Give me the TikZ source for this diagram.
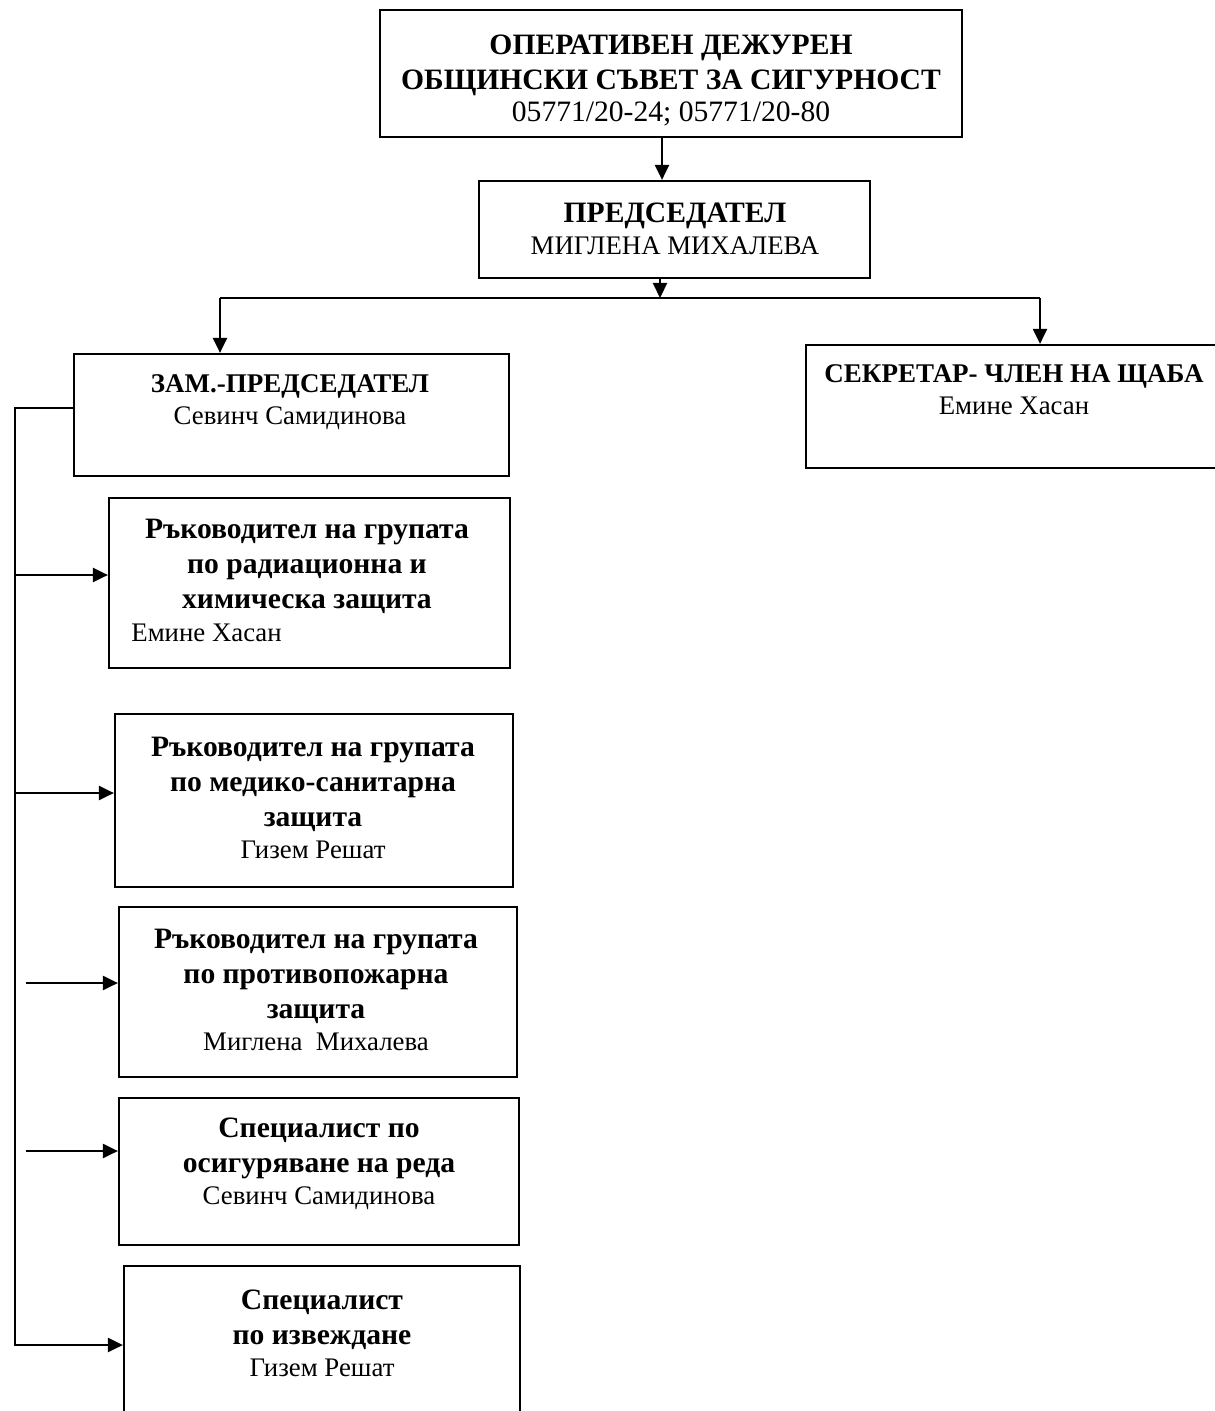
\documentclass[tikz,border=0pt]{standalone}
\usepackage{fontspec}
\setmainfont{Liberation Serif}
\usetikzlibrary{arrows.meta}

\newcommand{\headtxt}[1]{{\fontsize{14.8}{17.5}\selectfont\bfseries #1}}
\newcommand{\headsmall}[1]{{\fontsize{13.5}{17.5}\selectfont\bfseries #1}}
\newcommand{\nametxt}[1]{{\fontsize{13.4}{17.5}\selectfont #1}}

\begin{document}
\begin{tikzpicture}[x=0.5pt, y=-0.5pt, >={Triangle[length=7.5pt,width=7pt]},
    box/.style={draw, line width=1.1pt, inner sep=0pt},
    txt/.style={align=center, inner sep=0pt, font=\fontsize{14.8}{17.5}\selectfont},
    link/.style={line width=1.1pt}]
    \useasboundingbox (0,0) rectangle (1214,1411);

    % --- Boxes ---
    \node[box, minimum width=291pt, minimum height=63.5pt] (duty) at (671,73.5) {};
    \node[box, minimum width=195.5pt, minimum height=48.5pt] (chair) at (674.5,229.5) {};
    \node[box, minimum width=217.5pt, minimum height=61pt] (deputy) at (291.5,415) {};
    \node[box, minimum width=208pt, minimum height=61.5pt] (secr) at (1014,406.5) {};
    \node[box, minimum width=200.5pt, minimum height=85pt] (grpA) at (309.5,583) {};
    \node[box, minimum width=199pt, minimum height=86.5pt] (grpB) at (314,800.5) {};
    \node[box, minimum width=199pt, minimum height=85pt] (grpC) at (318,992) {};
    \node[box, minimum width=200pt, minimum height=73.5pt] (grpD) at (319,1171.5) {};
    \node[box, minimum width=198pt, minimum height=77pt] (grpE) at (322,1343) {};

    % --- Texts ---
    \node[txt] (dutyT) at (671,80) {\headtxt{ОПЕРАТИВЕН ДЕЖУРЕН}\\\headtxt{ОБЩИНСКИ СЪВЕТ ЗА СИГУРНОСТ}\\[-1.5pt]05771/20-24; 05771/20-80};
    \node[txt] (chairT) at (675,229) {\headtxt{ПРЕДСЕДАТЕЛ}\\[-1.5pt]\nametxt{МИГЛЕНА МИХАЛЕВА}};
    \node[txt] (deputyT) at (290,402) {\headsmall{ЗАМ.-ПРЕДСЕДАТЕЛ}\\[-1.5pt]\nametxt{Севинч Самидинова}};
    \node[txt] (secrT) at (1014,390) {\headsmall{СЕКРЕТАР- ЧЛЕН НА ЩАБА}\\[-1.5pt]\nametxt{Емине Хасан}};
    \node[txt] (grpAT) at (307,566) {\headtxt{Ръководител на групата}\\\headtxt{по радиационна и}\\\headtxt{химическа защита}};
    \node[txt, anchor=west] (grpAN) at (131,633) {\nametxt{Емине Хасан}};
    \node[txt] (grpBT) at (313,798) {\headtxt{Ръководител на групата}\\\headtxt{по медико-санитарна}\\\headtxt{защита}\\[-1.5pt]\nametxt{Гизем Решат}};
    \node[txt] (grpCT) at (316,990) {\headtxt{Ръководител на групата}\\\headtxt{по противопожарна}\\\headtxt{защита}\\[-1.5pt]\nametxt{Миглена\ \ Михалева}};
    \node[txt] (grpDT) at (319,1164) {\headtxt{Специалист по}\\\headtxt{осигуряване на реда}\\[-1.5pt]\nametxt{Севинч Самидинова}};
    \node[txt] (grpET) at (322,1333) {\headtxt{Специалист}\\\headtxt{по извеждане}\\[-1.5pt]\nametxt{Гизем Решат}};

    % --- Top links ---
    \draw[link, ->] ([xshift=-4.5pt]duty.south) -- ([xshift=-4.5pt]duty.south |- chair.north);
    \coordinate (bus) at (660,298);
    \coordinate (busL) at (220,298);
    \coordinate (busR) at (1040,298);
    \draw[link, ->] (chair.south -| bus) -- (bus);
    \draw[link] (busL) -- (busR);
    \draw[link, ->] (busL) -- (busL |- deputy.north);
    \draw[link, ->] (busR) -- (busR |- secr.north);

    % --- Left spine ---
    \coordinate (spine) at (15,408);
    \draw[link, ->] (deputy.west |- spine) -- (spine) |- ([yshift=-1pt]grpE.west);
    \foreach \g/\dy/\len in {grpA/4/47, grpB/3.75/50, grpC/4.5/46, grpD/10.25/46}
      \draw[link, ->] ([xshift=-\len pt, yshift=\dy pt]\g.west) -- ([yshift=\dy pt]\g.west);
\end{tikzpicture}
\end{document}
